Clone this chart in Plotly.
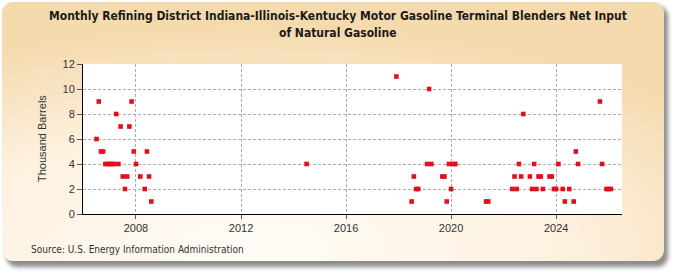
import base64
import plotly.graph_objects as go

# ---- data ----
months = [
    "2006-07", "2006-08", "2006-09", "2006-10", "2006-11", "2006-12", "2007-01", "2007-02",
    "2007-03", "2007-04", "2007-05", "2007-06", "2007-07", "2007-08", "2007-09", "2007-10",
    "2007-11", "2007-12", "2008-01", "2008-03", "2008-05", "2008-06", "2008-07", "2008-08",
    "2014-07",
    "2017-12", "2018-07", "2018-08", "2018-09", "2018-10", "2019-02", "2019-03", "2019-04",
    "2019-09", "2019-10", "2019-11", "2019-12", "2020-01", "2020-02", "2020-03",
    "2021-05", "2021-06",
    "2022-05", "2022-06", "2022-07", "2022-08", "2022-09", "2022-10", "2023-01", "2023-02",
    "2023-03", "2023-04", "2023-05", "2023-06", "2023-07", "2023-10", "2023-11", "2023-12",
    "2024-01", "2024-02", "2024-04", "2024-05", "2024-07", "2024-09", "2024-10", "2024-11",
    "2025-09", "2025-10", "2025-12", "2026-01", "2026-02",
]
values = [
    6, 9, 5, 5, 4, 4, 4, 4,
    4, 8, 4, 7, 3, 2, 3, 7,
    9, 5, 4, 3, 2, 5, 3, 1,
    4,
    11, 1, 3, 2, 2, 4, 10, 4,
    3, 3, 1, 4, 2, 4, 4,
    1, 1,
    2, 3, 2, 4, 3, 8, 3, 2,
    4, 2, 3, 3, 2, 3, 3, 2,
    2, 4, 2, 1, 2, 1, 5, 4,
    9, 4, 2, 2, 2,
]
dates = [m + "-01" for m in months]

title_lines = ["Monthly Refining District Indiana-Illinois-Kentucky Motor Gasoline Terminal Blenders Net Input",
               "of Natural Gasoline"]
y_title = "Thousand Barrels"
source_text = "Source: U.S. Energy Information Administration"

# ---- geometry ----
W, H = 675, 275
ML, MR, MT, MB = 83, 53, 64, 61
PW, PH = W - ML - MR, H - MT - MB

def px(xp):
    return (xp - ML) / PW

def py(yp):
    return (H - MB - yp) / PH

# decorative panel background (rounded, gradient, shadow)
svg = f'''<svg xmlns="http://www.w3.org/2000/svg" width="{W}" height="{H}" viewBox="0 0 {W} {H}">
<defs>
<radialGradient id="g" cx="0.38" cy="0.95" r="0.85">
<stop offset="0" stop-color="#FFFCF7"/>
<stop offset="0.55" stop-color="#FDF1DF"/>
<stop offset="1" stop-color="#F5DAAE"/>
</radialGradient>
<filter id="s" x="-5%" y="-10%" width="110%" height="120%"><feGaussianBlur stdDeviation="2.2"/></filter>
</defs>
<rect x="6" y="6" width="662" height="261" rx="11" fill="#8c8c8c" filter="url(#s)"/>
<rect x="2" y="2" width="662" height="259" rx="11" fill="url(#g)"/>
</svg>'''
src = "data:image/svg+xml;base64," + base64.b64encode(svg.encode()).decode()

fig = go.Figure()
fig.add_trace(go.Scatter(
    x=dates, y=values, mode="markers",
    marker=dict(symbol="square", size=4.6, color="#E0101E", line=dict(width=0)),
    hoverinfo="x+y", showlegend=False,
))

font_cond = "DejaVu Sans Condensed, sans-serif"
font_reg = "Liberation Sans, Arial, sans-serif"

annotations = [
    dict(text="<b>" + title_lines[0] + "</b>", xref="paper", yref="paper", x=px(337.5), y=py(16),
         showarrow=False, xanchor="center", yanchor="middle",
         font=dict(family=font_cond, size=12, color="#1a1a1a")),
    dict(text="<b>" + title_lines[1] + "</b>", xref="paper", yref="paper", x=px(337.5), y=py(33),
         showarrow=False, xanchor="center", yanchor="middle",
         font=dict(family=font_cond, size=12, color="#1a1a1a")),
    dict(text=y_title, xref="paper", yref="paper", x=px(42), y=0.5,
         textangle=-90, showarrow=False, xanchor="center", yanchor="middle",
         font=dict(family=font_reg, size=11, color="#333")),
    dict(text=source_text, xref="paper", yref="paper", x=px(29), y=py(249),
         showarrow=False, xanchor="left", yanchor="middle",
         font=dict(family=font_cond, size=10, color="#333")),
]

fig.update_layout(
    width=W, height=H,
    margin=dict(l=ML, r=MR, t=MT, b=MB, pad=0),
    paper_bgcolor="white",
    plot_bgcolor="white",
    xaxis=dict(
        type="date", range=["2005-12-25", "2026-07-05"],
        tick0="2008-01-01", dtick="M48", tickformat="%Y",
        showgrid=True, gridcolor="#ABABAB", griddash="3px,2px", gridwidth=1,
        showline=True, linecolor="black", linewidth=1,
        ticks="outside", ticklen=4, tickcolor="#555",
        tickfont=dict(family=font_reg, size=11, color="#333"),
        zeroline=False, fixedrange=True,
    ),
    yaxis=dict(
        range=[0, 12], dtick=2, tick0=0,
        showgrid=True, gridcolor="#ABABAB", griddash="3px,2px", gridwidth=1,
        showline=True, linecolor="black", linewidth=1,
        ticks="outside", ticklen=5, tickcolor="#555",
        tickfont=dict(family=font_reg, size=11, color="#333"),
        zeroline=False, fixedrange=True,
    ),
    images=[dict(source=src, xref="paper", yref="paper",
                 x=px(0), y=py(0), sizex=W / PW, sizey=H / PH,
                 xanchor="left", yanchor="top", sizing="stretch", layer="below")],
    shapes=[dict(type="rect", xref="paper", yref="paper", x0=0, x1=1, y0=0, y1=1,
                 fillcolor="white", line=dict(width=0), layer="below")],
    annotations=annotations,
)

fig.write_html("out.html")
